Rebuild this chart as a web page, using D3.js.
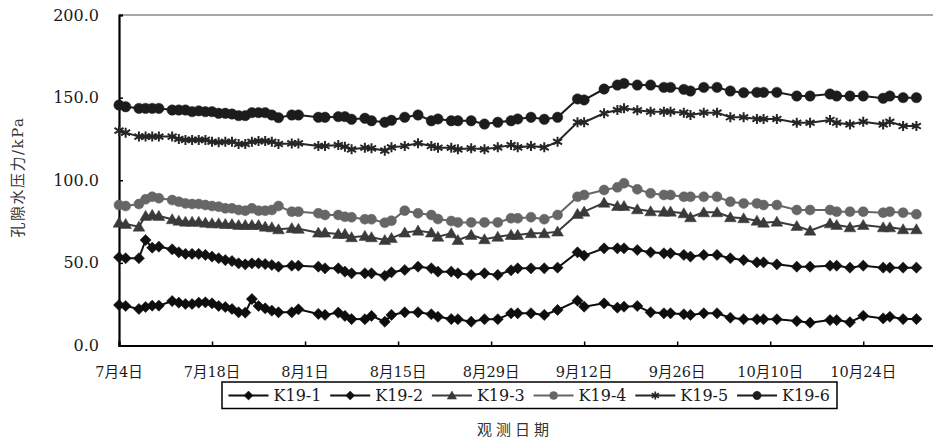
<!DOCTYPE html>
<html>
<head>
<meta charset="utf-8">
<script src="https://cdn.jsdelivr.net/npm/d3@7"></script>
<style>
  body { margin: 0; background: #fff; }
  svg { display: block; font-family: "DejaVu Serif", "Noto Sans CJK SC", serif; }
</style>
</head>
<body>
<svg width="933" height="443"></svg>
<script>
// observation dates (month-day)
var dates = ["07-04","07-05","07-07","07-08","07-09","07-10","07-12","07-13","07-14","07-15","07-16","07-17","07-18","07-19","07-20","07-21","07-22","07-23","07-24","07-25","07-26","07-27","07-28","07-30","07-31",
  "08-03","08-04","08-06","08-07","08-08","08-10","08-11","08-13","08-14","08-16","08-18","08-20","08-21","08-23","08-24","08-26","08-28","08-30",
  "09-01","09-02","09-04","09-06","09-08","09-11","09-12","09-15","09-17","09-18","09-20","09-22","09-24","09-25","09-27","09-28","09-30",
  "10-02","10-04","10-06","10-08","10-09","10-11","10-14","10-16","10-19","10-20","10-22","10-24","10-27","10-28","10-30","11-01"];

var k19_1 = [24.5,23.9,22.1,23.3,24.1,24.1,26.9,25.9,25.1,25.1,25.9,26.1,25.5,23.9,23.3,22.1,20.1,19.9,28.1,23.9,22.5,21.1,20.1,20.1,21.9,
  19.1,18.5,19.9,17.9,16.0,15.9,17.9,14.4,18.5,20.1,20.1,18.9,17.4,16.0,15.9,14.4,15.9,15.9,
  19.5,19.5,19.5,18.5,21.5,27.1,23.5,25.5,22.9,23.5,23.9,20.1,19.5,19.5,18.9,18.5,19.5,
  19.5,16.8,15.9,15.9,15.9,15.9,14.8,13.8,15.4,15.4,14.1,18.0,16.4,17.4,16.0,16.0];

var k19_2 = [53.4,52.8,52.8,63.8,59.2,59.8,58.2,56.4,55.4,55.4,55.4,54.8,53.8,52.8,51.7,51.1,49.7,49.1,49.7,49.7,49.3,48.7,47.7,48.3,48.3,
  47.7,46.7,46.7,44.7,43.7,43.7,43.7,42.2,44.3,45.7,47.7,46.7,44.7,44.7,43.7,42.7,43.7,42.7,
  45.5,46.7,46.7,46.7,47.1,56.4,54.4,58.8,58.8,58.8,57.8,56.4,55.8,55.8,54.8,53.8,54.8,
  54.8,52.8,51.7,50.3,50.3,49.1,47.7,47.7,48.3,48.3,47.1,48.3,47.1,47.1,47.1,47.1];

var k19_3 = [74.3,73.5,71.9,78.4,79.0,78.4,76.4,75.5,74.9,74.9,74.9,74.3,73.9,73.9,73.5,73.5,72.9,72.9,72.9,72.9,71.9,71.5,70.3,71.0,70.6,
  68.3,68.3,67.5,67.5,65.5,66.3,65.5,63.8,65.0,68.3,69.5,68.3,65.8,67.9,63.8,66.9,64.3,65.8,
  66.9,66.9,67.9,67.9,68.9,79.6,81.0,86.4,84.4,84.4,82.4,81.2,81.0,81.0,80.0,77.6,80.6,
  80.6,77.6,77.0,75.5,74.3,74.9,72.3,69.5,73.9,72.9,71.5,72.9,71.5,71.5,70.3,70.3];

var k19_4 = [85.0,84.4,85.6,88.5,90.0,89.1,88.0,87.0,86.0,85.6,85.6,85.0,84.4,84.0,83.0,83.0,82.0,81.6,83.0,81.6,81.6,82.0,84.4,81.0,81.0,
  80.0,79.0,79.0,77.9,77.6,76.4,76.4,74.3,75.5,81.6,80.0,79.0,76.5,75.3,74.5,74.5,74.5,74.5,
  77.0,77.0,77.6,76.4,79.0,90.0,91.1,94.1,95.7,98.2,94.5,92.1,91.1,91.1,90.0,90.0,90.0,
  90.0,87.0,86.0,86.0,85.0,85.0,82.0,82.0,82.0,81.0,81.0,81.0,80.4,81.0,80.4,79.4];

var k19_5 = [130.0,128.8,126.4,126.4,126.4,126.4,126.4,125.0,124.4,124.4,124.4,124.4,123.3,123.0,123.3,123.3,121.9,121.9,123.3,123.7,123.7,123.3,121.9,122.3,122.3,
  120.7,120.7,121.3,120.3,118.7,119.7,119.3,117.9,119.9,120.7,122.4,120.7,119.7,119.7,118.7,119.3,118.7,119.9,
  121.3,119.9,120.7,119.9,123.3,135.1,135.1,140.5,142.5,143.5,142.3,141.5,141.5,141.5,140.9,139.5,140.9,
  140.9,138.1,138.1,137.1,137.1,137.1,134.8,134.8,136.5,134.8,133.8,135.4,133.8,135.4,132.8,132.8];

var k19_6 = [145.5,144.5,143.5,143.5,143.5,143.5,142.5,142.5,142.5,141.5,142.0,141.5,141.5,140.5,140.5,140.1,139.1,139.1,140.9,140.9,140.9,139.5,137.9,139.5,139.5,
  138.1,138.1,138.5,138.5,136.9,137.5,136.0,135.1,136.3,138.1,139.5,136.0,137.1,136.0,136.0,136.0,134.0,135.1,
  136.0,137.1,138.1,136.9,138.1,149.2,148.6,155.2,157.6,158.6,157.6,157.6,156.2,156.2,155.0,154.0,156.2,
  156.2,154.0,153.0,153.2,153.2,153.2,151.0,151.0,152.2,151.0,151.0,151.0,149.6,151.0,150.0,150.0];

var seriesNames = ["K19-1","K19-2","K19-3","K19-4","K19-5","K19-6"];
var yTicks = [0, 50, 100, 150, 200];
var xTickDates = ["07-04","07-18","08-01","08-15","08-29","09-12","09-26","10-10","10-24"];
var xTickLabels = ["7月4日","7月18日","8月1日","8月15日","8月29日","9月12日","9月26日","10月10日","10月24日"];

var svg = d3.select("svg");
var parse = function(s) { return d3.timeParse("%Y-%m-%d")("2019-" + s); };

var x = d3.scaleTime()
  .domain([parse("07-04"), parse("11-04")])
  .range([119, 119 + 123 * 6.645]);
var y = d3.scaleLinear().domain([0, 200]).range([345.5, 15]);

// marker shapes
function markerPath(type, r) {
  if (type === "diamond") return "M0," + (-r) + "L" + r + ",0L0," + r + "L" + (-r) + ",0Z";
  if (type === "triangle") return "M0," + (-r) + "L" + (r * 1.05) + "," + (r * 0.8) + "L" + (-r * 1.05) + "," + (r * 0.8) + "Z";
  if (type === "star") {
    var a = r * 0.9;
    return "M0," + (-r) + "L0," + r + "M" + (-a) + "," + (-a * 0.6) + "L" + a + "," + (a * 0.6) + "M" + (-a) + "," + (a * 0.6) + "L" + a + "," + (-a * 0.6);
  }
  return d3.symbol(d3.symbolCircle, Math.PI * r * r)();
}

var series = [
  {name: seriesNames[0], values: k19_1, color: "#0d0d0d", marker: "diamond", r: 5.6},
  {name: seriesNames[1], values: k19_2, color: "#111", marker: "diamond", r: 5.6},
  {name: seriesNames[2], values: k19_3, color: "#3a3a3a", marker: "triangle", r: 5.6},
  {name: seriesNames[3], values: k19_4, color: "#666", marker: "circle", r: 5},
  {name: seriesNames[4], values: k19_5, color: "#262626", marker: "star", r: 5},
  {name: seriesNames[5], values: k19_6, color: "#1c1c1c", marker: "circle", r: 5.2}
];

// axes
svg.append("line").attr("x1", 119).attr("x2", 933).attr("y1", 15).attr("y2", 15)
  .attr("stroke", "#8a8a8a").attr("stroke-width", 1.5);

var yAxis = d3.axisRight(y).tickValues(yTicks).tickSize(4).tickFormat("");
svg.append("g").attr("transform", "translate(119,0)").call(yAxis)
  .call(function(g) {
    g.select(".domain").attr("stroke", "#000").attr("stroke-width", 2.2);
    g.selectAll(".tick line").attr("stroke", "#000").attr("stroke-width", 1.5);
  });

svg.selectAll(".ylab").data(yTicks).enter().append("text")
  .attr("class", "ylab")
  .attr("x", 99).attr("y", function(d) { return y(d); })
  .attr("dy", "0.35em")
  .attr("text-anchor", "end")
  .attr("font-size", 16).attr("fill", "#1a1a1a")
  .text(function(d) { return d.toFixed(1); });

var xAxis = d3.axisTop(x).tickValues(xTickDates.map(parse)).tickSize(4).tickFormat("");
svg.append("g").attr("transform", "translate(0,345.5)").call(xAxis)
  .call(function(g) {
    g.select(".domain").attr("stroke", "#000").attr("stroke-width", 2.2);
    g.selectAll(".tick line").attr("stroke", "#000").attr("stroke-width", 1.5);
  });

svg.selectAll(".xlab").data(xTickDates).enter().append("text")
  .attr("class", "xlab")
  .attr("x", function(d) { return x(parse(d)); })
  .attr("y", 372).attr("dy", "0.35em")
  .attr("text-anchor", "middle")
  .attr("font-size", 14.5).attr("fill", "#1a1a1a")
  .text(function(d, i) { return xTickLabels[i]; });

// series lines + markers
var line = d3.line()
  .x(function(d, i) { return x(parse(dates[i])); })
  .y(function(d) { return y(d); });

series.forEach(function(s) {
  var g = svg.append("g");
  g.append("path").attr("d", line(s.values))
    .attr("fill", "none").attr("stroke", s.color).attr("stroke-width", 2);
  g.selectAll("path.m").data(s.values).enter().append("path")
    .attr("class", "m")
    .attr("transform", function(d, i) { return "translate(" + x(parse(dates[i])) + "," + y(d) + ")"; })
    .attr("d", markerPath(s.marker, s.r))
    .attr("fill", s.marker === "star" ? "none" : s.color)
    .attr("stroke", s.color)
    .attr("stroke-width", s.marker === "star" ? 2 : 0.5);
});

// legend
svg.append("rect").attr("x", 222).attr("y", 382).attr("width", 615).attr("height", 26.5)
  .attr("fill", "#fff").attr("stroke", "#000").attr("stroke-width", 1.5);

series.forEach(function(s, i) {
  var lx = 273.5 + i * 101.7;
  var ly = 395.5;
  svg.append("line").attr("x1", lx - 45).attr("x2", lx - 5).attr("y1", ly).attr("y2", ly)
    .attr("stroke", s.color).attr("stroke-width", 2);
  svg.append("path").attr("transform", "translate(" + (lx - 25) + "," + ly + ")")
    .attr("d", markerPath(s.marker, s.r * 0.8))
    .attr("fill", s.marker === "star" ? "none" : s.color)
    .attr("stroke", s.color)
    .attr("stroke-width", s.marker === "star" ? 1.7 : 0.5);
  svg.append("text").attr("x", lx).attr("y", ly).attr("dy", "0.36em")
    .attr("font-size", 16).attr("fill", "#1a1a1a")
    .text(s.name);
});

// axis titles
svg.append("text").attr("x", 515).attr("y", 430).attr("dy", "0.35em")
  .attr("text-anchor", "middle").attr("font-size", 15).attr("letter-spacing", 4)
  .attr("fill", "#333").text("观测日期");

svg.append("text").attr("transform", "translate(18,177) rotate(-90)")
  .attr("dy", "0.35em").attr("text-anchor", "middle")
  .attr("font-size", 15).attr("letter-spacing", 1.5)
  .attr("fill", "#333").text("孔隙水压力/kPa");
</script>
</body>
</html>
